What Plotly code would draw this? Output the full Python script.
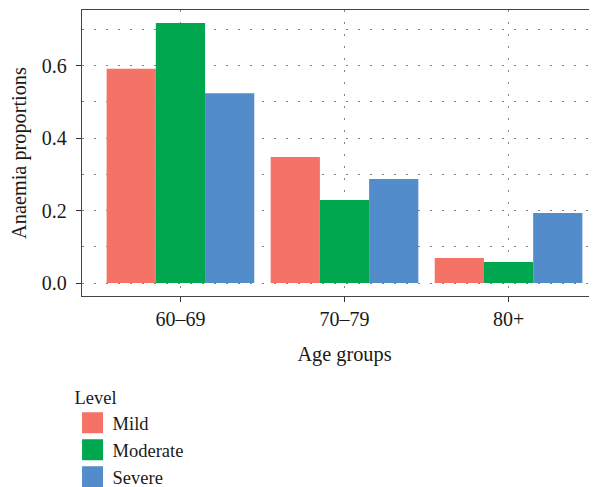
import plotly.graph_objects as go

age_groups = ["60–69", "70–79", "80+"]
levels = ["Mild", "Moderate", "Severe"]
mild = [0.592, 0.348, 0.069]
moderate = [0.718, 0.229, 0.058]
severe = [0.524, 0.287, 0.193]
colors = ["#F47366", "#00A74F", "#528CCB"]
y_ticks = [0.0, 0.2, 0.4, 0.6]

FONT = "Liberation Serif"
series = [mild, moderate, severe]

fig = go.Figure()
for name, vals, col in zip(levels, series, colors):
    fig.add_trace(go.Bar(x=age_groups, y=vals, name=name, marker=dict(color=col, line=dict(width=0)),
                         legendgroup=name, showlegend=False))
for name, col in zip(levels, colors):
    fig.add_trace(go.Scatter(x=[None], y=[None], mode="markers", name=name, legendgroup=name,
                             marker=dict(symbol="square", size=16, color=col, line=dict(color=col, width=5))))

grid = dict(gridcolor="#808080", gridwidth=1, griddash="2px,10px")
fig.update_layout(
    width=599, height=530,
    margin=dict(l=74, r=0, t=2, b=242),
    paper_bgcolor="white", plot_bgcolor="white",
    barmode="group", bargap=0.1, bargroupgap=0,
    font=dict(family=FONT, size=18, color="#1a1a1a"),
    xaxis=dict(range=[-0.6, 2.6], showline=True, mirror=True, linecolor="#444", linewidth=1.3,
               ticks="outside", ticklen=5, tickcolor="#333", showgrid=True, **grid, automargin=False,
               ticklabelstandoff=0,
               title=dict(text="Age groups", standoff=17, font=dict(size=20.3)),
               tickfont=dict(size=20), fixedrange=True),
    yaxis=dict(range=[-0.0359, 0.754], showline=True, mirror=False, linecolor="#444", linewidth=1.3,
               ticks="outside", ticklen=5, tickcolor="#333", tickvals=y_ticks, tickformat=".1f",
               showgrid=True, **grid, zeroline=False, automargin=False, ticklabelstandoff=5,
               minor=dict(dtick=0.1, tick0=0, showgrid=True, **grid),
               title=dict(text="Anaemia proportions", standoff=12, font=dict(size=20.3)),
               tickfont=dict(size=20)),
    legend=dict(orientation="v", x=-0.018, xanchor="left", y=-0.294, yanchor="top",
                title=dict(text="Level", font=dict(size=18.5)), font=dict(size=18.5),
                itemsizing="trace", bgcolor="rgba(0,0,0,0)", tracegroupgap=0),
)
fig.write_html("out.html")
